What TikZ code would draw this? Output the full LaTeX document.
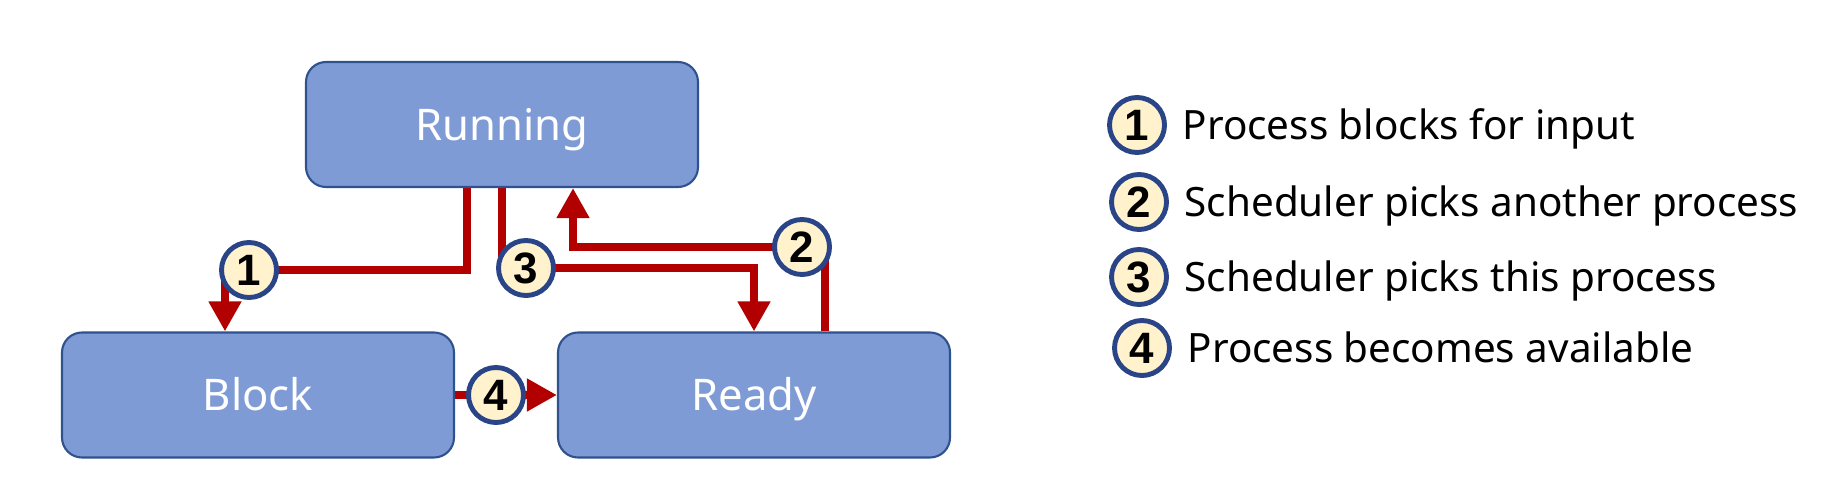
\documentclass[tikz,border=0pt]{standalone}
\usepackage{fontspec}
\setmainfont{Noto Sans}
\newfontfamily\numfont{Liberation Sans}
\usetikzlibrary{arrows.meta,positioning,backgrounds}
\definecolor{boxfill}{HTML}{7F9BD5}
\definecolor{boxline}{HTML}{2F528F}
\definecolor{flowred}{HTML}{B20000}
\definecolor{badgefill}{HTML}{FFF2CC}
\definecolor{badgeline}{HTML}{2A4488}

\begin{document}
\begin{tikzpicture}[
    state/.style={draw=boxline,line width=0.6pt,fill=boxfill,rounded corners=0.2cm,
      minimum width=3.92cm,minimum height=1.25cm,text=white,text height=0.31cm,text depth=0pt,
      font=\fontsize{12.4}{15}\selectfont},
    badge/.style={circle,draw=badgeline,line width=1.4pt,fill=badgefill,minimum size=0.55cm,
      inner sep=0pt,font=\numfont\bfseries\fontsize{12.5}{14}\selectfont},
    flow/.style={draw=flowred,line width=2.55pt,-{Triangle[length=0.3cm,width=0.31cm]}},
    legtext/.style={inner sep=0pt,text height=0.29cm,text depth=0pt,font=\fontsize{11.5}{14}\selectfont}
  ]
      \useasboundingbox (0,0) rectangle (18.43,5.02);

      \node [state] (run) at (5.02,3.775) {Running};
      \node [state] (blk) at (2.58,1.07) {Block};
      \node [state] (rdy) at (7.54,1.07) {Ready};

      \node [badge] (b1) at (2.49,2.32) {1};
      \node [badge] (b2) at (8.02,2.55) {2};
      \node [badge] (b3) at (5.26,2.34) {3};
      \node [badge] (b4) at (4.96,1.07) {4};

      \begin{scope}[on background layer]
      \draw[flow] ([xshift=-0.35cm]run.south) |- (b1.center) -| ([xshift=-0.33cm]blk.north);
      \draw[flow] ([xshift=0.71cm]rdy.north) |- (b2.center) -| ([xshift=0.71cm]run.south);
      \draw[flow] (run.south) |- (b3.center) -| (rdy.north);
      \draw[flow] (blk.east) -- (rdy.west);
      \end{scope}

      % legend
      \node [badge] (k1) at (11.37,3.77) {1};
      \node [badge] (k2) at (11.39,3.00) {2};
      \node [badge] (k3) at (11.39,2.25) {3};
      \node [badge] (k4) at (11.42,1.54) {4};
      \node [legtext,right=0.15cm of k1] (t1) {Process blocks for input};
      \node [legtext,right=0.15cm of k2] (t2) {Scheduler picks another process};
      \node [legtext,right=0.15cm of k3] (t3) {Scheduler picks this process};
      \node [legtext,right=0.15cm of k4] (t4) {Process becomes available};
\end{tikzpicture}
\end{document}
